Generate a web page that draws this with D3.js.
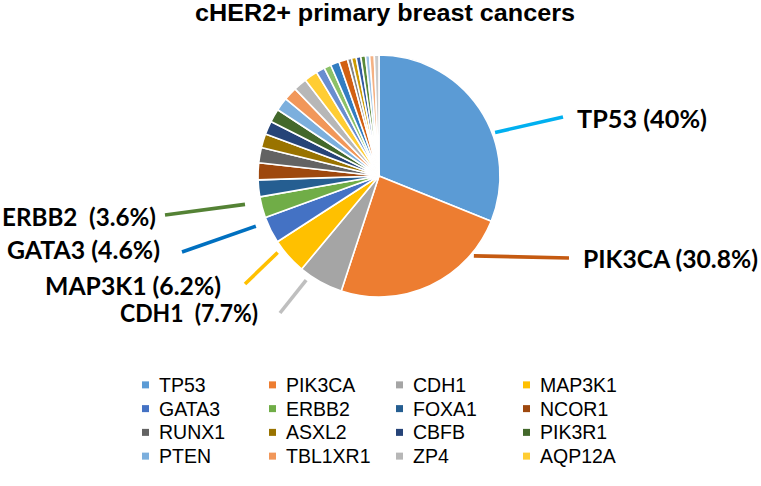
<!DOCTYPE html>
<html>
<head>
<meta charset="utf-8">
<script src="https://cdn.jsdelivr.net/npm/d3@7"></script>
<style>
  html, body { margin: 0; padding: 0; background: #ffffff; }
  svg { display: block; }
  text { white-space: pre; }
</style>
</head>
<body>
<svg id="chart" width="761" height="486"></svg>
<script>
// ---- data ----
const genes = ["TP53","PIK3CA","CDH1","MAP3K1","GATA3","ERBB2","FOXA1","NCOR1",
  "RUNX1","ASXL2","CBFB","PIK3R1","PTEN","TBL1XR1","ZP4","AQP12A",
  "Gene17","Gene18","Gene19","Gene20","Gene21","Gene22","Gene23","Gene24","Gene25","Gene26","Gene27"];
const values = [40, 30.8, 7.7, 6.2, 4.6, 3.6, 2.9, 2.9,
  2.6, 2.4, 2.3, 2.3, 2.3, 2.3, 2.3, 2.3,
  1.5, 1.2, 1.5, 1.5, 0.7, 0.8, 0.8, 0.8, 0.7, 0.8, 0.8];
const colors = ["#5B9BD5","#ED7D31","#A5A5A5","#FFC000","#4472C4","#70AD47",
  "#255E91","#9E480E","#636363","#997300","#264478","#43682B",
  "#7CAFDD","#F1975A","#B7B7B7","#FFCD33","#698ED0","#8CC168",
  "#327DC2","#D26012","#848484","#CC9A00","#335AA1","#5A8A39",
  "#9DC3E6","#F4B183","#C9C9C9"];
const legendGenes = genes.slice(0, 16);
const labelTexts = ["TP53 (40%)","PIK3CA (30.8%)","CDH1  (7.7%)","MAP3K1 (6.2%)","GATA3 (4.6%)","ERBB2  (3.6%)"];
const leaderColors = ["#00B0F0","#C55A11","#BFBFBF","#FFC000","#0070C0","#548235"];
const title = "cHER2+ primary breast cancers";

// ---- layout ----
const cx = 379, cy = 176, R = 121;
const svg = d3.select("#chart");

svg.append("text")
  .attr("x", 195).attr("y", 21)
  .attr("font-family", "'Liberation Sans', Arial, sans-serif")
  .attr("font-weight", "bold")
  .attr("font-size", 23)
  .attr("textLength", 380)
  .attr("lengthAdjust", "spacingAndGlyphs")
  .attr("fill", "#000")
  .text(title);

const pie = d3.pie().sort(null).value(d => d.v).startAngle(0).endAngle(2 * Math.PI);
const arcs = pie(genes.map((g, i) => ({ g, v: values[i], c: colors[i] })));
const arc = d3.arc().innerRadius(0).outerRadius(R);

const g = svg.append("g").attr("transform", `translate(${cx},${cy})`);
g.selectAll("path").data(arcs).join("path")
  .attr("d", arc)
  .attr("fill", d => d.data.c)
  .attr("stroke", "#fff")
  .attr("stroke-width", 1.6)
  .attr("stroke-linejoin", "round");

// label layout: fraction within slice for leader start, radial offset, leader end, text box
const labelLayout = [
  { frac: 0.62, r: R + 3, ex: 563, ey: 117, tx: 577, ty: 119, w: 130 },
  { frac: 0.21, r: R + 3, ex: 569, ey: 258, tx: 583, ty: 259, w: 175 },
  { frac: 0.78, r: R + 6, ex: 280, ey: 313, tx: 120, ty: 313, w: 138 },
  { frac: 0.76, r: R + 6, ex: 245, ey: 284, tx: 45, ty: 286, w: 176 },
  { frac: 0.83, r: R + 12, ex: 182, ey: 252, tx: 7, ty: 250, w: 153 },
  { frac: 0.80, r: R + 16, ex: 165, ey: 215, tx: 2, ty: 217, w: 154 }
];

labelTexts.forEach((t, i) => {
  const a = arcs[i];
  const L = labelLayout[i];
  const ang = a.startAngle + (a.endAngle - a.startAngle) * L.frac;
  const sx = cx + L.r * Math.sin(ang), sy = cy - L.r * Math.cos(ang);
  svg.append("line")
    .attr("x1", sx).attr("y1", sy).attr("x2", L.ex).attr("y2", L.ey)
    .attr("stroke", leaderColors[i]).attr("stroke-width", 3.6);
  svg.append("text")
    .attr("x", L.tx).attr("y", L.ty)
    .attr("dy", "0.35em")
    .attr("font-family", "Lato, 'Open Sans', sans-serif")
    .attr("font-weight", "bold")
    .attr("font-size", 25)
    .attr("textLength", L.w)
    .attr("lengthAdjust", "spacingAndGlyphs")
    .attr("fill", "#000")
    .text(t);
});

// legend
const colX = d3.scaleBand().domain([0,1,2,3]).range([142, 650]);
const rowY = d3.scaleBand().domain([0,1,2,3]).range([373, 468]);
const lg = svg.append("g");
legendGenes.forEach((name, i) => {
  const c = i % 4, r = Math.floor(i / 4);
  const x = colX(c), y = rowY(r) + rowY.bandwidth() / 2;
  lg.append("rect").attr("x", x).attr("y", y - 3.5).attr("width", 7).attr("height", 7).attr("fill", colors[i]);
  lg.append("text").attr("x", x + 17).attr("y", y).attr("dy", "0.36em")
    .attr("font-family", "'Liberation Sans', Arial, sans-serif")
    .attr("font-size", 19.5).attr("fill", "#000").text(name);
});
</script>
</body>
</html>
